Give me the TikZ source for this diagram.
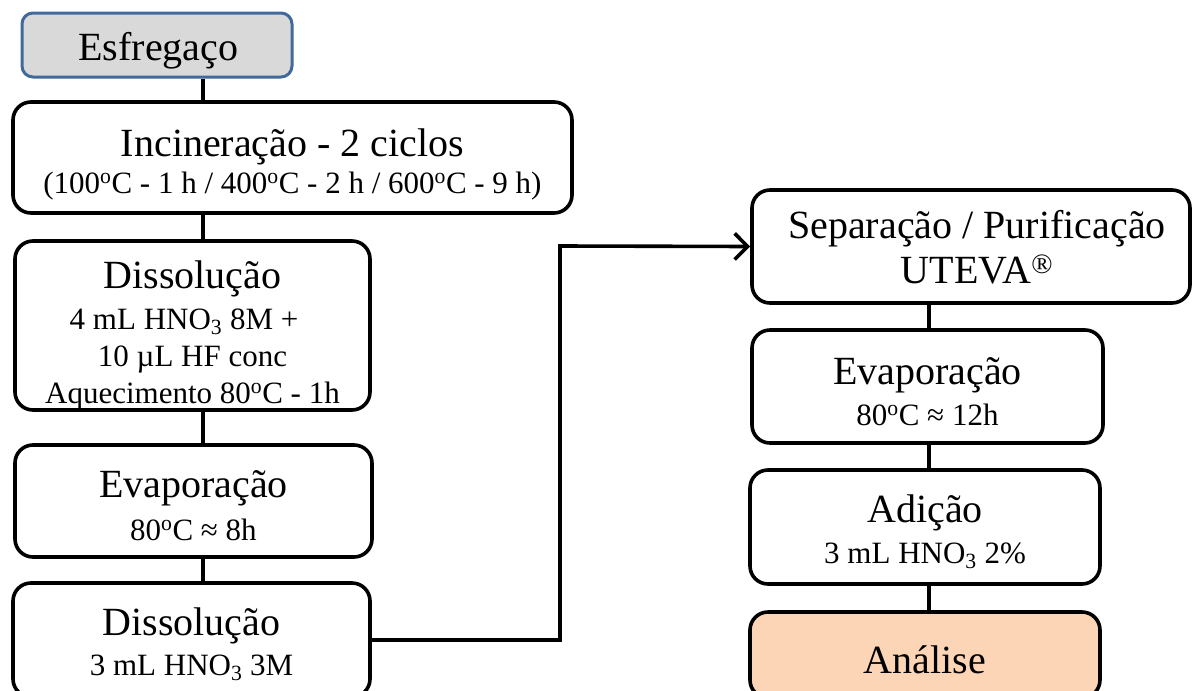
\documentclass[tikz,border=0pt]{standalone}
\usepackage{fontspec}
\setmainfont{Liberation Serif}
\usetikzlibrary{arrows.meta}
\definecolor{startfill}{HTML}{D9D9D9}
\definecolor{startline}{HTML}{41699A}
\definecolor{endfill}{HTML}{FBD5B5}
\newcommand{\ttl}{\fontsize{40}{44}\selectfont}
\newcommand{\bdy}{\fontsize{31}{37}\selectfont}
\newcommand{\dg}{\textsuperscript{o}}
\newcommand{\hno}{HNO\textsubscript{3}}
\begin{document}
\begin{tikzpicture}[x=1pt,y=-1pt,
  stepbox/.style={draw=black, line width=3.6pt, fill=white, rounded corners=18pt, inner sep=0pt},
  startbox/.style={stepbox, draw=startline, fill=startfill, line width=3pt, rounded corners=11pt},
  endbox/.style={stepbox, fill=endfill},
  ttltext/.style={anchor=base, inner sep=0pt, font=\ttl},
  bdytext/.style={anchor=base, inner sep=0pt, font=\bdy},
  link/.style={line width=3.6pt},
  flow/.style={line width=3.6pt, -{Straight Barb[length=13pt,width=26pt,line width=3.6pt]}}]
\useasboundingbox (0,0) rectangle (1192,691);
\clip (0,0) rectangle (1192,691);
% column guides for the vertical links
\coordinate (lc) at (203,0);
\coordinate (rc) at (929,0);
\coordinate (bend) at (560,246);
% left column boxes
\node[startbox, minimum width=270pt, minimum height=64pt] (esf) at (157,45) {};
\node[stepbox, minimum width=559pt, minimum height=111pt] (inc) at (292.5,157.5) {};
\node[stepbox, minimum width=355pt, minimum height=169pt] (dis1) at (192.5,325.5) {};
\node[stepbox, minimum width=357pt, minimum height=112pt] (eva1) at (193.5,501) {};
\node[stepbox, minimum width=357pt, minimum height=114pt] (dis2) at (191.5,640) {};
% right column boxes
\node[stepbox, minimum width=438pt, minimum height=113pt] (sep) at (971,246.5) {};
\node[stepbox, minimum width=351pt, minimum height=113pt] (eva2) at (927.5,386.5) {};
\node[stepbox, minimum width=350pt, minimum height=114pt] (adi) at (925,527) {};
\node[endbox, minimum width=350pt, minimum height=86pt] (ana) at (925,655) {};
% box texts, one node per line on its baseline
\node[ttltext] (esf-t) at (158.5,60) {Esfrega\c{c}o};
\node[ttltext] (inc-t1) at (292.5,156) {Incinera\c{c}\~ao - 2 ciclos};
\node[bdytext] (inc-t2) at (292.5,193) {(100\dg C - 1 h / 400\dg C - 2 h / 600\dg C - 9 h)};
\node[ttltext] (dis1-t1) at (192.5,288) {Dissolu\c{c}\~ao};
\node[bdytext] (dis1-t2) at (184,329) {4 mL \hno{} 8M +};
\node[bdytext] (dis1-t3) at (192.5,366) {10 \textmu L HF conc};
\node[bdytext] (dis1-t4) at (192.5,403) {Aquecimento 80\dg C - 1h};
\node[ttltext] (eva1-t1) at (193.5,497) {Evapora\c{c}\~ao};
\node[bdytext] (eva1-t2) at (193.5,540) {80\dg C \char"2248{} 8h};
\node[ttltext] (dis2-t1) at (191.5,635) {Dissolu\c{c}\~ao};
\node[bdytext] (dis2-t2) at (191.5,675) {3 mL \hno{} 3M};
\node[ttltext] (sep-t1) at (977,238) {Separa\c{c}\~ao / Purifica\c{c}\~ao};
\node[ttltext] (sep-t2) at (977,283) {UTEVA\textsuperscript{\textregistered}};
\node[ttltext] (eva2-t1) at (927.5,384) {Evapora\c{c}\~ao};
\node[bdytext] (eva2-t2) at (927.5,425) {80\dg C \char"2248{} 12h};
\node[ttltext] (adi-t1) at (925,522) {Adi\c{c}\~ao};
\node[bdytext] (adi-t2) at (925,563) {3 mL \hno{} 2\%};
\node[ttltext] (ana-t) at (925,673) {An\'alise};
% links
\draw[link] (esf.south -| lc) -- (inc.north -| lc);
\draw[link] (inc.south -| lc) -- (dis1.north -| lc);
\draw[link] (dis1.south -| lc) -- (eva1.north -| lc);
\draw[link] (eva1.south -| lc) -- (dis2.north -| lc);
\draw[link] (sep.south -| rc) -- (eva2.north -| rc);
\draw[link] (eva2.south -| rc) -- (adi.north -| rc);
\draw[link] (adi.south -| rc) -- (ana.north -| rc);
\draw[flow] (dis2.east) -| (bend) -- (sep.west);
\end{tikzpicture}
\end{document}
